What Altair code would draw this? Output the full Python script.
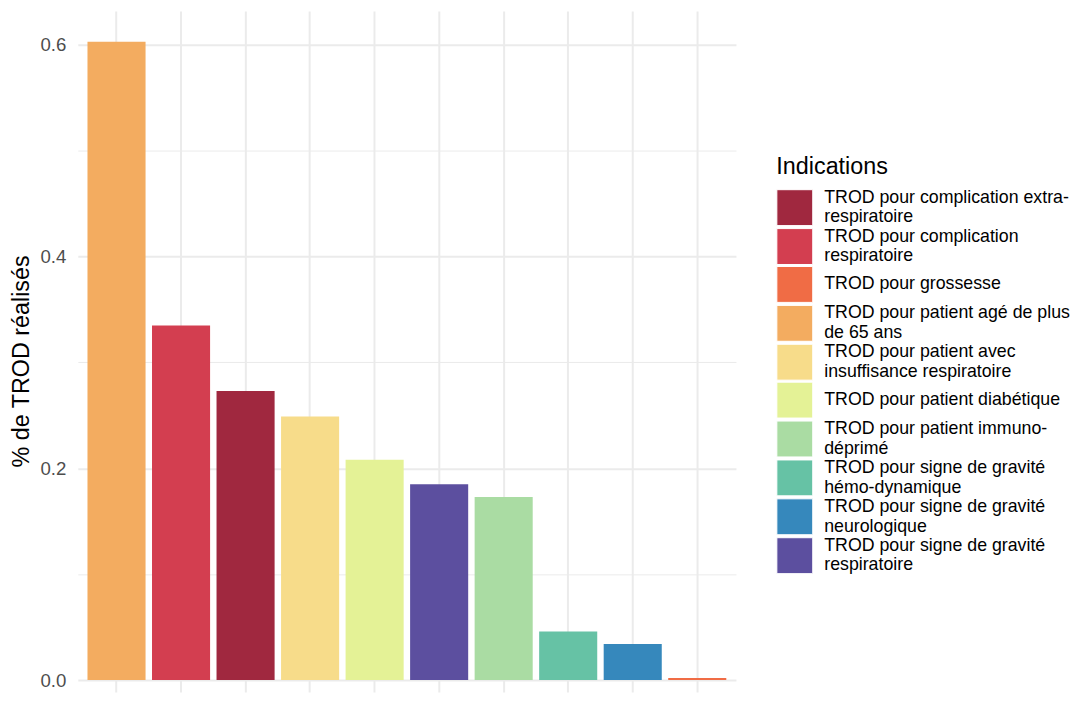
import altair as alt
import pandas as pd

# Categories (legend order) and their colours
indications = [
    "TROD pour complication extra-respiratoire",
    "TROD pour complication respiratoire",
    "TROD pour grossesse",
    "TROD pour patient agé de plus de 65 ans",
    "TROD pour patient avec insuffisance respiratoire",
    "TROD pour patient diabétique",
    "TROD pour patient immuno-déprimé",
    "TROD pour signe de gravité hémo-dynamique",
    "TROD pour signe de gravité neurologique",
    "TROD pour signe de gravité respiratoire",
]
colors = [
    "#A0283F", "#D33E50", "#F06C45", "#F3AC60", "#F7DC8A",
    "#E4F296", "#AADCA3", "#66C2A5", "#3688BC", "#5C4F9F",
]

# Bars in plotted order (descending)
bar_order = [
    "TROD pour patient agé de plus de 65 ans",
    "TROD pour complication respiratoire",
    "TROD pour complication extra-respiratoire",
    "TROD pour patient avec insuffisance respiratoire",
    "TROD pour patient diabétique",
    "TROD pour signe de gravité respiratoire",
    "TROD pour patient immuno-déprimé",
    "TROD pour signe de gravité hémo-dynamique",
    "TROD pour signe de gravité neurologique",
    "TROD pour grossesse",
]
values = [0.603, 0.335, 0.273, 0.249, 0.208, 0.185, 0.173, 0.046, 0.034, 0.002]

# Wrapped legend labels
wrapped = {
    "TROD pour complication extra-respiratoire": ["TROD pour complication extra-", "respiratoire"],
    "TROD pour complication respiratoire": ["TROD pour complication", "respiratoire"],
    "TROD pour patient agé de plus de 65 ans": ["TROD pour patient agé de plus", "de 65 ans"],
    "TROD pour patient avec insuffisance respiratoire": ["TROD pour patient avec", "insuffisance respiratoire"],
    "TROD pour patient immuno-déprimé": ["TROD pour patient immuno-", "déprimé"],
    "TROD pour signe de gravité hémo-dynamique": ["TROD pour signe de gravité", "hémo-dynamique"],
    "TROD pour signe de gravité neurologique": ["TROD pour signe de gravité", "neurologique"],
    "TROD pour signe de gravité respiratoire": ["TROD pour signe de gravité", "respiratoire"],
}

df = pd.DataFrame({"Indications": bar_order, "val": values})

label_expr = ""
for k, v in wrapped.items():
    arr = "[" + ", ".join("'" + s + "'" for s in v) + "]"
    label_expr += f"datum.label == '{k}' ? {arr} : "
label_expr += "datum.label"

single = [k for k in indications if k not in wrapped]
baseline_expr = "(" + " || ".join(f"datum.label == '{k}'" for k in single) + ") ? 'middle' : 'line-bottom'"

FONT = "Liberation Sans"

chart = (
    alt.Chart(df)
    .mark_bar()
    .encode(
        x=alt.X(
            "Indications:N",
            sort=bar_order,
            scale=alt.Scale(paddingInner=0.1, paddingOuter=0.15),
            axis=alt.Axis(
                title=None, labels=False, ticks=False, domain=False,
                grid=True, gridColor="#EBEBEB", gridWidth=2, bandPosition=0.5,
            ),
        ),
        y=alt.Y(
            "val:Q",
            scale=alt.Scale(domain=[-0.0113, 0.632], nice=False, zero=False),
            axis=alt.Axis(
                title="% de TROD réalisés",
                values=[0, 0.1, 0.2, 0.3, 0.4, 0.5, 0.6],
                labelExpr="round(datum.value*10) % 2 == 0 ? format(datum.value, '.1f') : ''",
                ticks=False, domain=False,
                grid=True, gridColor="#EBEBEB",
                gridWidth=alt.ConditionalAxisNumber(
                    condition={"test": "round(datum.value*10) % 2 == 0", "value": 2},
                    value=1,
                ),
                labelFontSize=18.7, labelColor="#4D4D4D", labelPadding=12,
                titleFontSize=23.4, titleColor="black", titleFontWeight="normal",
                titlePadding=6, titleY=351,
            ),
        ),
        color=alt.Color(
            "Indications:N",
            scale=alt.Scale(domain=indications, range=colors),
            legend=alt.Legend(
                title="Indications", orient="none", legendX=700.5, legendY=146,
                direction="vertical", columns=1,
                symbolType="square", symbolSize=1296,
                symbolStrokeColor="white", symbolStrokeWidth=1,
                symbolOpacity=1,
                labelExpr=label_expr, labelFontSize=17.8, labelColor="black",
                labelBaseline={"expr": baseline_expr},
                labelOffset=11, labelLimit=400,
                titleFontSize=23.4, titleFontWeight="normal", titleColor="black",
                titlePadding=9, padding=0, rowPadding=0, clipHeight=37.7,
            ),
        ),
    )
    .properties(
        width=660, height=683,
        autosize=alt.AutoSizeParams(type="none"),
        padding={"left": 70, "top": 2, "right": 346, "bottom": 0},
    )
    .configure(font=FONT, background="white")
    .configure_view(stroke=None)
)

chart.save("out.html", embed_options={"renderer": "svg", "actions": False})
